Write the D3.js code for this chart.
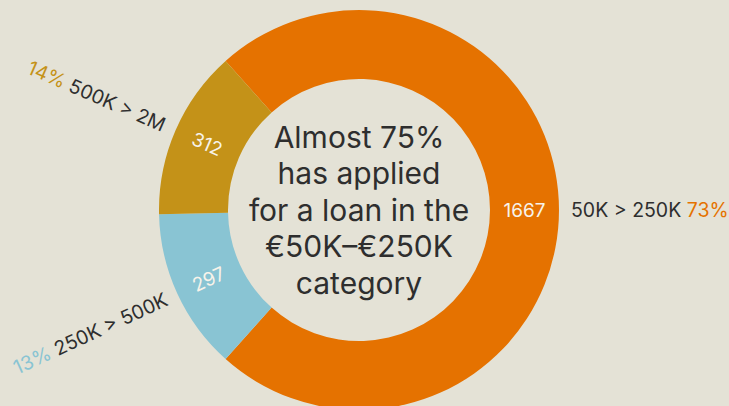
<!DOCTYPE html>
<html>
<head>
<meta charset="utf-8">
<script src="https://cdn.jsdelivr.net/npm/d3@7"></script>
<style>
  html, body { margin: 0; padding: 0; background: #e4e2d6; }
  svg { display: block; }
  text { font-family: Inter, "Noto Sans", sans-serif; }
</style>
</head>
<body>
<svg id="chart"></svg>
<script>
// data
var categories = ["50K > 250K", "250K > 500K", "500K > 2M"];
var values = [1667, 297, 312];
var colors = ["#e57200", "#89c4d3", "#c49218"];
var centerLines = ["Almost 75%", "has applied", "for a loan in the", "\u20ac50K\u2013\u20ac250K", "category"];

var width = 729;
var height = 406;
var cx = 359, cy = 210;
var outerR = 200, innerR = 131;

var svg = d3.select("#chart")
	.attr("width", width)
	.attr("height", height);

var g = svg.append("g")
	.attr("transform", "translate(" + cx + "," + cy + ")");

var total = d3.sum(values);
// first slice centred on the right side
var firstAngle = values[0] / total * 2 * Math.PI;
var pie = d3.pie()
	.sort(null)
	.startAngle(Math.PI / 2 - firstAngle / 2)
	.endAngle(Math.PI / 2 - firstAngle / 2 + 2 * Math.PI);

var arcs = pie(values);

var arc = d3.arc()
	.innerRadius(innerR)
	.outerRadius(outerR);

g.selectAll(".slice")
	.data(arcs)
	.enter()
	.append("path")
		.attr("class", "slice")
		.attr("fill", (d, i) => colors[i])
		.attr("d", arc);

function midAngle(d) { return (d.startAngle + d.endAngle) / 2; }
function rotation(d) {
	var deg = midAngle(d) * 180 / Math.PI - 90;
	if (deg > 90) deg -= 180;
	return deg;
}

// value labels inside ring
g.selectAll(".value")
	.data(arcs)
	.enter()
	.append("text")
		.attr("class", "value")
		.attr("transform", d => "translate(" + arc.centroid(d) + ") rotate(" + rotation(d) + ")")
		.attr("text-anchor", "middle")
		.attr("dy", "0.36em")
		.attr("fill", "#f7f3ea")
		.attr("font-size", 19)
		.text(d => d.data);

// outer labels
var labelR = 212;
var outer = g.selectAll(".outer")
	.data(arcs)
	.enter()
	.append("text")
		.attr("class", "outer")
		.attr("transform", function(d) {
			var a = midAngle(d);
			var x = labelR * Math.sin(a), y = -labelR * Math.cos(a);
			return "translate(" + x + "," + y + ") rotate(" + rotation(d) + ")";
		})
		.attr("text-anchor", d => midAngle(d) < Math.PI ? "start" : "end")
		.attr("dy", "0.36em")
		.attr("font-size", 19.5)
		.attr("fill", "#2e2e2e");

outer.each(function(d, i) {
	var t = d3.select(this);
	var pct = Math.round(d.data / total * 100) + "%";
	if (midAngle(d) < Math.PI) {
		t.append("tspan").text(categories[i] + " ");
		t.append("tspan").attr("fill", colors[i]).text(pct);
	} else {
		t.append("tspan").attr("fill", colors[i]).text(pct);
		t.append("tspan").text(" " + categories[i]);
	}
});

// centre text
var lineH = 36.5;
g.append("text")
	.attr("class", "center")
	.attr("text-anchor", "middle")
	.attr("font-size", 30)
	.attr("fill", "#2e2e2e")
	.selectAll("tspan")
	.data(centerLines)
	.enter()
	.append("tspan")
		.attr("x", 0)
		.attr("y", (d, i) => (i - (centerLines.length - 1) / 2) * lineH)
		.attr("dy", "0.36em")
		.text(d => d);
</script>
</body>
</html>
